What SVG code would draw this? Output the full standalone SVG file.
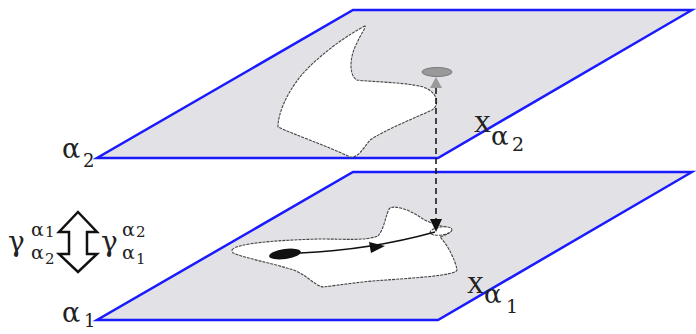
<svg xmlns="http://www.w3.org/2000/svg" width="696" height="334" viewBox="0 0 696 334">
<style>
.plane{fill:#e2e2e6;stroke:#1a1aff;stroke-width:2.5;stroke-linejoin:miter}
.blob{fill:#fff;stroke:#444;stroke-width:1.1;stroke-dasharray:3,1}
.t{font-family:"DejaVu Serif","Liberation Serif",serif;fill:#222}
.x{font-family:"Liberation Serif","Times New Roman",serif;fill:#222}
</style>
<rect width="696" height="334" fill="#fff"/>
<g id="plane-top">
<polygon class="plane" points="353,10 692,10 438,158 97,158"/>
<path class="blob" d="M365,26 C352,32 318,55 300,77 C288,92 278,112 278,127 C295,135 325,145 350,157 C358,158 362,150 370,140 C385,130 410,120 432,110 C440,105 438,92 423,87 C405,82 370,82 357,80 C348,75 350,55 357,43 C360,35 366,28 365,26 Z"/>
<ellipse cx="437" cy="72" rx="15" ry="4.5" fill="#999" stroke="#777" stroke-width="1"/>
</g>
<g id="plane-bottom">
<polygon class="plane" points="353,172 692,172 438,320 97,320"/>
<path class="blob" d="M232,250 C236,243 280,240 320,239 C345,239 365,241 378,236 C385,228 386,212 390,208 C395,205 410,210 420,217 C428,223 440,226 450,228 C454,230 450,234 440,237 C448,245 456,262 457,270 C455,276 410,278 387,280 C365,281 340,285 323,287 C313,285 305,272 287,268 C270,263 245,258 233,253 Z"/>
<ellipse class="blob" cx="441" cy="231" rx="11" ry="4" transform="rotate(-8 441 231)"/>
<ellipse cx="285" cy="254" rx="16" ry="5" fill="#111" transform="rotate(-8 285 254)"/>
</g>
<g id="connectors">
<path d="M300,253 Q370,250 435,232" fill="none" stroke="#111" stroke-width="1.6"/>
<polygon points="385,246 369,242 371,253" fill="#111"/>
<line x1="436" y1="88" x2="436" y2="220" stroke="#111" stroke-width="1.5" stroke-dasharray="6,4"/>
<polygon points="436,232 430,219 442,219" fill="#111"/>
<polygon points="436,77 430,88 442,88" fill="#999"/>
</g>
<g id="double-arrow">
<path d="M78,212 L97,232 L87,232 L87,254 L97,254 L78,272 L59,254 L69,254 L69,232 L59,232 Z" fill="#fff" stroke="#111" stroke-width="2.5" stroke-linejoin="miter"/>
</g>
<g id="labels">
<text class="t" x="8" y="251" font-size="28">γ</text>
<text class="t" x="31" y="236" font-size="19">α</text>
<text class="t" x="45" y="237" font-size="15">1</text>
<text class="t" x="31" y="259" font-size="19">α</text>
<text class="t" x="45" y="264" font-size="15">2</text>
<text class="t" x="101" y="251" font-size="28">γ</text>
<text class="t" x="122" y="236" font-size="19">α</text>
<text class="t" x="136" y="237" font-size="15">2</text>
<text class="t" x="122" y="259" font-size="19">α</text>
<text class="t" x="136" y="264" font-size="15">1</text>
<text class="t" x="62" y="158" font-size="27">α</text>
<text class="t" x="83" y="167" font-size="18">2</text>
<text class="t" x="62" y="322" font-size="27">α</text>
<text class="t" x="84" y="327" font-size="18">1</text>
<text class="x" x="474" y="132" font-size="34">x</text>
<text class="t" x="491" y="145" font-size="26">α</text>
<text class="t" x="512" y="151" font-size="19">2</text>
<text class="x" x="467" y="293" font-size="34">x</text>
<text class="t" x="484" y="303" font-size="26">α</text>
<text class="t" x="506" y="313" font-size="19">1</text>
</g>
</svg>
